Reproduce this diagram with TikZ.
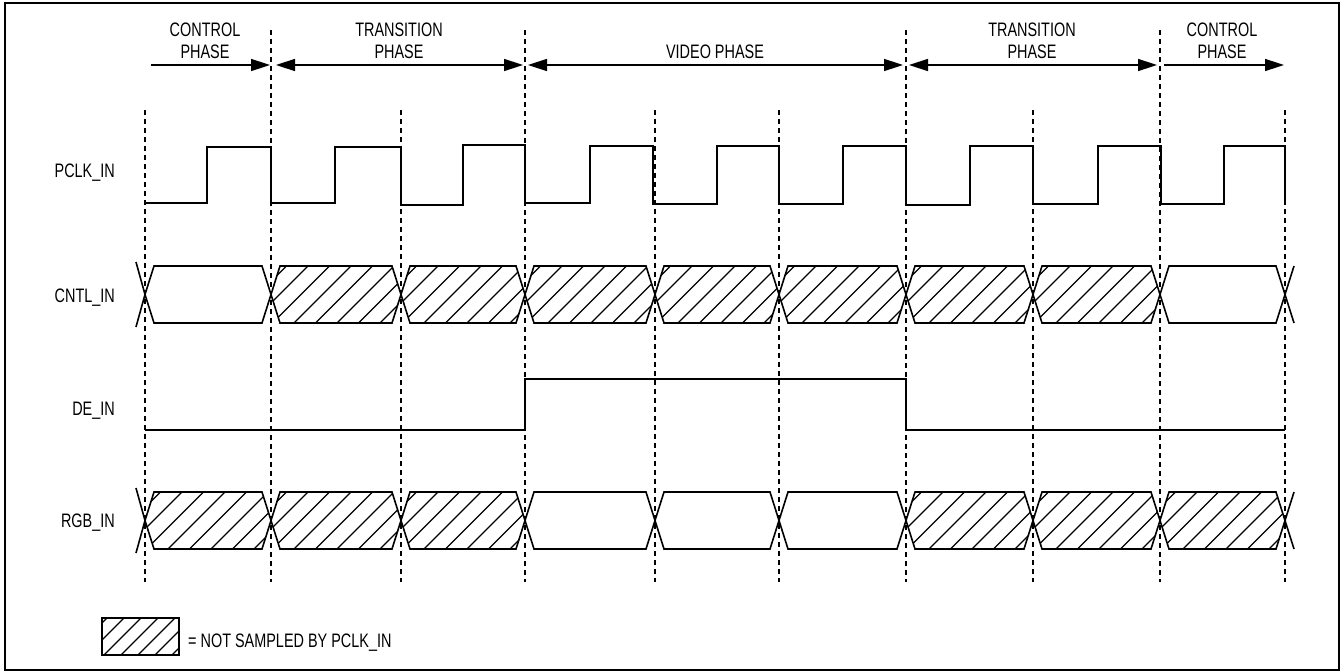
\documentclass[tikz,border=0pt]{standalone}
\usepackage{fontspec}
\setmainfont{Liberation Sans}[FakeStretch=0.74]
\usetikzlibrary{arrows.meta}
\newcommand{\busseg}[5]{%
  \pgfmathsetmacro{\mymid}{(#3+#4)/2}%
  \ifnum#5=1
  \begin{scope}
    \clip (#1,\mymid) -- (#1+9,#3) -- (#2-9,#3) -- (#2,\mymid) -- (#2-9,#4) -- (#1+9,#4) -- cycle;
    \foreach \k in {-3,...,7} \draw[hatchline] (#1+1.5+21.5*\k,#4) -- ++(70,-70);
  \end{scope}
  \fi
  \draw[sig] (#1,\mymid) -- (#1+9,#3) -- (#2-9,#3) -- (#2,\mymid) -- (#2-9,#4) -- (#1+9,#4) -- cycle;
}
\begin{document}
\begin{tikzpicture}[x=1pt,y=-1pt,
  sig/.style={line width=1.6pt, line join=miter},
  gridline/.style={line width=1.3pt, dash pattern=on 5pt off 4pt},
  hatchline/.style={line width=1.1pt},
  >={Triangle[length=19pt,width=12pt]},
  phasearrow/.style={line width=1.5pt},
  lbl/.style={font=\fontsize{19.5}{21}\selectfont, inner sep=0pt},
]
\useasboundingbox (0,0) rectangle (1342,672);
\draw[line width=2pt] (5,3) rectangle (1339,670);

% dashed grid
\foreach \x in {271,525,906,1160} \draw[gridline] (\x,30) -- (\x,582);
\foreach \x in {145,401,655,779,1033,1285} \draw[gridline] (\x,110) -- (\x,582);

% phase arrows
\draw[phasearrow,->] (151,65) -- (270,65);
\draw[phasearrow,<->] (276,65) -- (523,65);
\draw[phasearrow,<->] (528,65) -- (903,65);
\draw[phasearrow,<->] (909,65) -- (1157,65);
\draw[phasearrow,->] (1164,65) -- (1284,65);

% phase labels
\node[lbl,anchor=base] (c1a) at (205,36) {CONTROL};
\node[lbl,anchor=base] (c1b) at (205,58) {PHASE};
\node[lbl,anchor=base] (t1a) at (399,36) {TRANSITION};
\node[lbl,anchor=base] (t1b) at (399,58) {PHASE};
\node[lbl,anchor=base] (v1) at (715,58) {VIDEO PHASE};
\node[lbl,anchor=base] (t2a) at (1032,36) {TRANSITION};
\node[lbl,anchor=base] (t2b) at (1032,58) {PHASE};
\node[lbl,anchor=base] (c2a) at (1222,36) {CONTROL};
\node[lbl,anchor=base] (c2b) at (1222,58) {PHASE};

% signal names
\node[lbl,anchor=base east] (pclk) at (115,177) {PCLK\_IN};
\node[lbl,anchor=base east] (cntl) at (115,302) {CNTL\_IN};
\node[lbl,anchor=base east] (de) at (115,415) {DE\_IN};
\node[lbl,anchor=base east] (rgb) at (115,527) {RGB\_IN};

% PCLK_IN
\draw[sig] (145,203) -- (207,203) -- (207,147) -- (271,147) -- (271,203) -- (335,203) -- (335,147)
  -- (401,147) -- (401,205) -- (463,205) -- (463,145) -- (525,145) -- (525,203) -- (590,203)
  -- (590,146) -- (653,146) -- (653,204) -- (717,204) -- (717,146) -- (779,146) -- (779,204)
  -- (843,204) -- (843,146) -- (906,146) -- (906,205) -- (970,205) -- (970,146) -- (1033,146)
  -- (1033,204) -- (1098,204) -- (1098,146) -- (1161,146) -- (1161,204) -- (1224,204)
  -- (1224,146) -- (1285,146) -- (1285,203);

% CNTL_IN
\busseg{145}{271}{266}{323}{0}
\busseg{271}{401}{266}{323}{1}
\busseg{401}{525}{266}{323}{1}
\busseg{525}{655}{266}{323}{1}
\busseg{655}{779}{266}{323}{1}
\busseg{779}{906}{266}{323}{1}
\busseg{906}{1033}{266}{323}{1}
\busseg{1033}{1160}{266}{323}{1}
\busseg{1160}{1285}{266}{323}{0}
\draw[sig] (136,262) -- (145,294.5) -- (136,327);
\draw[sig] (1294,266) -- (1285,294.5) -- (1294,323);

% DE_IN
\draw[sig] (145,430) -- (525,430) -- (525,379) -- (906,379) -- (906,430) -- (1285,430);

% RGB_IN
\busseg{145}{271}{492}{549}{1}
\busseg{271}{401}{492}{549}{1}
\busseg{401}{525}{492}{549}{1}
\busseg{525}{655}{492}{549}{0}
\busseg{655}{779}{492}{549}{0}
\busseg{779}{906}{492}{549}{0}
\busseg{906}{1033}{492}{549}{1}
\busseg{1033}{1160}{492}{549}{1}
\busseg{1160}{1285}{492}{549}{1}
\draw[sig] (136,488) -- (145,520.5) -- (136,553);
\draw[sig] (1294,492) -- (1285,520.5) -- (1294,549);

% legend
\begin{scope}
  \clip (102,618) rectangle (179,655);
  \foreach \k in {-3,...,5} \draw[hatchline] (104+17*\k,655) -- ++(45,-45);
\end{scope}
\draw[sig] (102,618) rectangle (179,655);
\node[lbl,anchor=base west] (leg) at (188,647) {= NOT SAMPLED BY PCLK\_IN};
\end{tikzpicture}
\end{document}
